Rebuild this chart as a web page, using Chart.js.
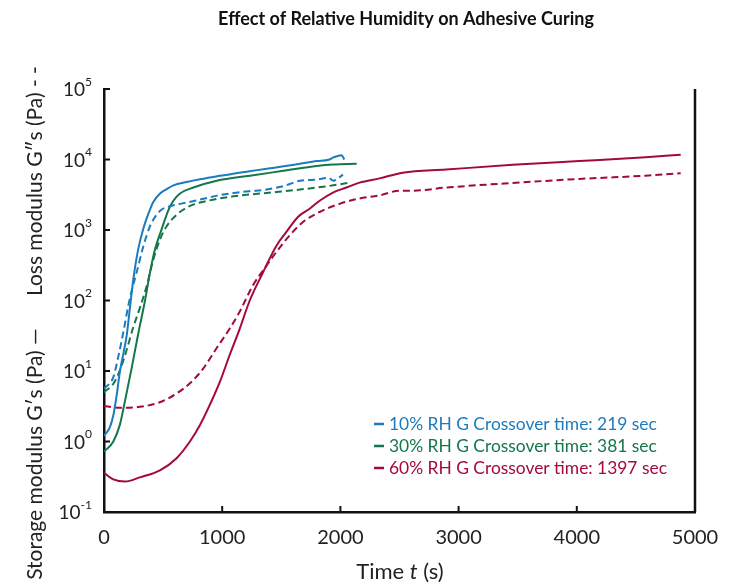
<!DOCTYPE html>
<html>
<head>
<meta charset="utf-8">
<script src="https://cdn.jsdelivr.net/npm/chart.js@4.4.0/dist/chart.umd.min.js"></script>
<style>
  html, body { margin: 0; padding: 0; background: #fff; }
  #wrap { width: 734px; height: 588px; }
</style>
</head>
<body>
<div id="wrap"><canvas id="cureChart" width="734" height="588"></canvas></div>
<script>
var chartTitle = 'Effect of Relative Humidity on Adhesive Curing';
var yTitleLeft = 'Storage modulus G\u2032s (Pa) \u2014';
var yTitleRight = 'Loss modulus G\u2033s (Pa) - -';

var xTickValues = [0, 1000, 2000, 3000, 4000, 5000];
var yTickValues = [0.1, 1, 10, 100, 1000, 10000, 100000];
var yTickExps = ['-1', '0', '1', '2', '3', '4', '5'];

var legendLabels = [
  '10% RH G Crossover time: 219 sec',
  '30% RH G Crossover time: 381 sec',
  '60% RH G Crossover time: 1397 sec'
];
var seriesColors = ['#1c7bbd', '#137749', '#a30a3b'];

// 10% RH
var rh10StorageT = [0, 50, 80, 107, 135, 165, 192, 220, 248, 290, 333, 380, 417, 474, 530, 587, 700, 812, 950, 1093, 1230, 1376, 1520, 1658, 1800, 1900, 1940, 2010, 2033];
var rh10StorageG = [1.2, 1.6, 2.4, 4.5, 10, 18, 32, 80, 200, 540, 1050, 1780, 2500, 3300, 3800, 4300, 4800, 5250, 5750, 6300, 6800, 7400, 8000, 8700, 9500, 9900, 10700, 11500, 10000];
var rh10LossT = [0, 79, 121, 163, 206, 240, 276, 333, 389, 446, 488, 550, 615, 700, 812, 950, 1093, 1230, 1376, 1520, 1658, 1800, 1900, 1940, 2022];
var rh10LossG = [5.6, 8.2, 16, 35, 85, 150, 250, 590, 1130, 1650, 1950, 2150, 2300, 2450, 2700, 3050, 3350, 3550, 3750, 4200, 5000, 5200, 5500, 5000, 6100];

// 30% RH
var rh30StorageT = [0, 79, 135, 178, 234, 290, 347, 389, 431, 488, 544, 587, 643, 756, 953, 1235, 1517, 1800, 1940, 2138];
var rh30StorageG = [0.72, 1.0, 1.75, 3.8, 11, 34, 100, 250, 530, 1030, 1900, 2600, 3300, 4000, 5000, 5900, 6900, 8100, 8500, 8700];
var rh30LossT = [0, 79, 135, 192, 248, 305, 361, 417, 474, 530, 615, 728, 812, 1094, 1376, 1658, 1940, 2081];
var rh30LossG = [5.0, 6.6, 10.3, 20, 42, 80, 160, 380, 740, 1130, 1650, 2200, 2450, 3000, 3350, 3750, 4300, 4700];

// 60% RH
var rh60StorageT = [0, 79, 178, 304, 473, 614, 727, 811, 895, 980, 1064, 1149, 1233, 1345, 1459, 1543, 1641, 1740, 1824, 1937, 2050, 2162, 2331, 2528, 2894, 3457, 4020, 4583, 4879];
var rh60StorageG = [0.36, 0.29, 0.27, 0.31, 0.39, 0.58, 1.0, 1.7, 3.3, 7.0, 17, 40, 100, 250, 600, 940, 1530, 2000, 2600, 3400, 4000, 4700, 5400, 6500, 7200, 8400, 9500, 10800, 11700];
var rh60LossT = [0, 135, 304, 473, 614, 727, 839, 952, 1064, 1149, 1261, 1374, 1459, 1571, 1684, 1824, 1993, 2162, 2331, 2500, 2600, 2894, 3457, 4020, 4583, 4879];
var rh60LossG = [3.2, 3.0, 3.1, 3.6, 4.8, 6.7, 10.8, 21, 40, 70, 165, 310, 490, 840, 1300, 1800, 2350, 2800, 3100, 3600, 3600, 4000, 4650, 5300, 5900, 6400];

var FONT = 'Lato, "Noto Sans", sans-serif';

function toPoints(ts, gs) {
  return ts.map(function(t, i) { return { x: t, y: gs[i] }; });
}

function makeSet(label, ts, gs, color, dashed) {
  return {
    label: label,
    data: toPoints(ts, gs),
    borderColor: color,
    backgroundColor: color,
    borderWidth: 2,
    borderDash: dashed ? [7, 4] : [],
    pointRadius: 0,
    cubicInterpolationMode: 'monotone',
    fill: false
  };
}

var decorPlugin = {
  id: 'decor',
  afterDraw: function(chart) {
    var ctx = chart.ctx;
    var area = chart.chartArea;
    var xs = chart.scales.x;
    var ys = chart.scales.y;
    ctx.save();

    // right frame line
    ctx.strokeStyle = '#111';
    ctx.lineWidth = 2.5;
    ctx.beginPath();
    ctx.moveTo(area.right, area.top);
    ctx.lineTo(area.right, area.bottom);
    ctx.stroke();

    // inward ticks
    ctx.lineWidth = 2;
    xTickValues.forEach(function(v) {
      var px = xs.getPixelForValue(v);
      ctx.beginPath();
      ctx.moveTo(px, area.bottom);
      ctx.lineTo(px, area.bottom - 6);
      ctx.stroke();
    });
    yTickValues.forEach(function(v) {
      var py = ys.getPixelForValue(v);
      ctx.beginPath();
      ctx.moveTo(area.left, py);
      ctx.lineTo(area.left + 6, py);
      ctx.stroke();
    });

    // y tick labels with exponents
    ctx.fillStyle = '#222';
    ctx.textBaseline = 'middle';
    yTickValues.forEach(function(v, i) {
      var py = ys.getPixelForValue(v);
      ctx.font = '12px ' + FONT;
      var ew = ctx.measureText(yTickExps[i]).width;
      ctx.textAlign = 'left';
      ctx.fillText(yTickExps[i], 92 - ew, py - 7);
      ctx.font = '19px ' + FONT;
      ctx.textAlign = 'right';
      ctx.fillText('10', 92 - ew, py + 1);
    });

    // title
    ctx.font = 'bold 18px ' + FONT;
    ctx.textAlign = 'center';
    ctx.fillStyle = '#111';
    ctx.fillText(chartTitle, 406, 19);

    // x axis title, italic t
    var partA = 'Time ', partB = 't', partC = ' (s)';
    ctx.font = '22px ' + FONT;
    var wA = ctx.measureText(partA).width;
    var wC = ctx.measureText(partC).width;
    ctx.font = 'italic 22px ' + FONT;
    var wB = ctx.measureText(partB).width;
    var x0 = 400 - (wA + wB + wC) / 2;
    ctx.textAlign = 'left';
    ctx.fillStyle = '#222';
    ctx.font = '22px ' + FONT;
    ctx.fillText(partA, x0, 572);
    ctx.font = 'italic 22px ' + FONT;
    ctx.fillText(partB, x0 + wA, 572);
    ctx.font = '22px ' + FONT;
    ctx.fillText(partC, x0 + wA + wB, 572);

    // y axis title
    ctx.translate(35, 323);
    ctx.rotate(-Math.PI / 2);
    ctx.textAlign = 'center';
    ctx.font = '21px ' + FONT;
    ctx.fillText(yTitleLeft + '      ' + yTitleRight, 0, 0);
    ctx.setTransform(1, 0, 0, 1, 0, 0);

    // legend
    ctx.font = '17.4px ' + FONT;
    ctx.textAlign = 'left';
    legendLabels.forEach(function(txt, i) {
      var y = 424 + i * 22;
      ctx.strokeStyle = seriesColors[i];
      ctx.lineWidth = 2.5;
      ctx.beginPath();
      ctx.moveTo(374, y);
      ctx.lineTo(384, y);
      ctx.stroke();
      ctx.fillStyle = seriesColors[i];
      ctx.fillText(txt, 389, y);
    });

    ctx.restore();
  }
};

var ctx = document.getElementById('cureChart').getContext('2d');
var cureChart = new Chart(ctx, {
  type: 'line',
  data: {
    datasets: [
      makeSet('10% G\u2032', rh10StorageT, rh10StorageG, seriesColors[0], false),
      makeSet('10% G\u2033', rh10LossT, rh10LossG, seriesColors[0], true),
      makeSet('30% G\u2032', rh30StorageT, rh30StorageG, seriesColors[1], false),
      makeSet('30% G\u2033', rh30LossT, rh30LossG, seriesColors[1], true),
      makeSet('60% G\u2032', rh60StorageT, rh60StorageG, seriesColors[2], false),
      makeSet('60% G\u2033', rh60LossT, rh60LossG, seriesColors[2], true)
    ]
  },
  options: {
    responsive: false,
    animation: false,
    layout: { padding: { top: 89, right: 39, bottom: 0, left: 0 } },
    plugins: {
      legend: { display: false },
      tooltip: { enabled: false },
      title: { display: false }
    },
    scales: {
      x: {
        type: 'linear',
        min: 0,
        max: 5000,
        grid: { display: false },
        border: { display: true, color: '#111', width: 2.5 },
        ticks: {
          stepSize: 1000,
          color: '#222',
          padding: 6,
          font: { family: FONT, size: 20 },
          callback: function(v) { return xTickValues.indexOf(v) >= 0 ? String(v) : ''; }
        },
        afterFit: function(scale) { scale.height = 76; }
      },
      y: {
        type: 'logarithmic',
        min: 0.1,
        max: 100000,
        grid: { display: false },
        border: { display: true, color: '#111', width: 2.5 },
        ticks: { display: false },
        afterBuildTicks: function(scale) {
          scale.ticks = yTickValues.map(function(v) { return { value: v }; });
        },
        afterFit: function(scale) { scale.width = 104; }
      }
    }
  },
  plugins: [decorPlugin]
});
</script>
</body>
</html>
